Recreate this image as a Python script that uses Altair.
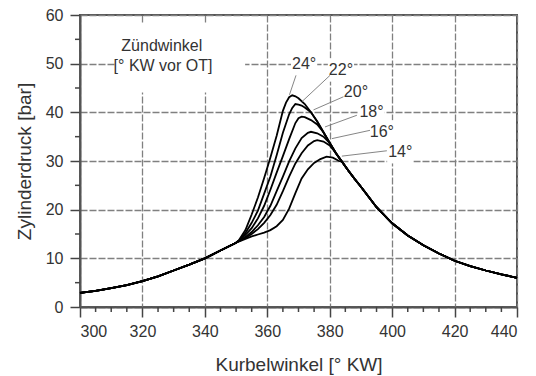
import altair as alt
import pandas as pd

# ---------------- data ----------------
angles = ["24°", "22°", "20°", "18°", "16°", "14°"]

# common compression branch (all curves)
comp_x = [300, 305, 310, 315, 320, 325, 330, 335, 340, 345, 350]
comp_y = [2.9, 3.3, 3.9, 4.5, 5.3, 6.3, 7.5, 8.7, 10.0, 11.6, 13.2]

# common expansion branch (all curves after they merge)
exp_x = [372, 374, 376, 378, 380, 382, 384, 386, 388, 390, 395, 400, 405, 410, 415, 420, 425, 430, 435, 440]
exp_y = [41.7, 40.0, 38.1, 35.9, 33.7, 31.6, 29.8, 28.0, 26.3, 24.7, 20.5, 17.2, 14.7, 12.7, 11.0, 9.5, 8.4, 7.5, 6.7, 6.0]

# combustion part of each curve
burn_x = {
    "24°": [351, 353, 355, 357, 359, 361, 363, 365, 366, 367, 368, 369, 370],
    "22°": [351, 353, 355, 357, 359, 361, 363, 365, 367, 368, 369, 370, 371, 372],
    "20°": [351, 353, 355, 357, 359, 361, 363, 365, 367, 369, 370, 371, 372, 374, 376],
    "18°": [351, 353, 355, 357, 359, 361, 363, 365, 367, 369, 371, 373, 374, 376, 378],
    "16°": [351, 353, 355, 357, 359, 361, 363, 365, 367, 369, 371, 373, 375, 376, 378, 380],
    "14°": [351, 353, 355, 357, 359, 361, 363, 365, 367, 369, 371, 373, 375, 377, 379, 381, 383],
}
burn_y = {
    "24°": [13.8, 15.8, 19.0, 22.5, 26.5, 30.7, 35.2, 40.3, 42.0, 43.1, 43.5, 43.3, 42.9],
    "22°": [13.7, 15.2, 17.3, 19.8, 23.3, 26.8, 31.2, 35.8, 39.6, 40.9, 41.7, 41.6, 41.4, 41.0],
    "20°": [13.6, 14.8, 16.2, 18.2, 20.8, 24.1, 27.6, 31.0, 34.5, 37.8, 38.8, 39.1, 39.0, 38.4, 37.5],
    "18°": [13.6, 14.4, 15.4, 16.8, 18.5, 20.8, 23.8, 26.8, 29.9, 32.6, 34.7, 35.8, 36.0, 35.7, 35.0],
    "16°": [13.5, 14.2, 15.0, 16.0, 17.3, 18.9, 21.0, 23.8, 26.8, 29.5, 31.6, 33.2, 34.1, 34.3, 34.0, 33.2],
    "14°": [13.5, 14.0, 14.5, 14.9, 15.3, 15.8, 16.6, 17.9, 20.2, 23.4, 26.4, 28.3, 29.6, 30.4, 30.9, 30.7, 30.0],
}

# curve labels and leader lines
label_x = [371.8, 383.6, 388.4, 393.4, 396.7, 402.6]
label_y = [50.0, 48.7, 44.2, 40.0, 36.0, 31.9]
lead_x1 = [369.2, 380.1, 384.4, 388.7, 392.9, 398.3]
lead_y1 = [47.6, 47.6, 43.2, 39.4, 36.3, 32.1]
lead_x2 = [367.1, 371.1, 374.8, 378.5, 380.7, 383.9]
lead_y2 = [43.6, 42.2, 40.5, 37.0, 34.6, 31.0]

# legend-like annotation
ann_text = ["Zündwinkel", "[° KW vor OT]"]
ann_x = [326.2, 326.6]
ann_y = [53.6, 49.6]

x_major = [300, 320, 340, 360, 380, 400, 420, 440]
y_major = [0, 10, 20, 30, 40, 50, 60]
x_minor = [v for v in range(300, 441, 5) if v not in x_major]
y_minor = [v for v in range(0, 61, 5) if v not in y_major]

# ---------------- tables ----------------
rows = []
for a in angles:
    xs_ = comp_x + burn_x[a]
    ys_ = comp_y + burn_y[a]
    last = burn_x[a][-1]
    for ex, ey in zip(exp_x, exp_y):
        if ex > last:
            xs_.append(ex)
            ys_.append(ey)
    for i, (xv, yv) in enumerate(zip(xs_, ys_)):
        rows.append({"zw": a, "winkel": xv, "druck": yv, "o": i})
curves = pd.DataFrame(rows)

labels = pd.DataFrame({"t": angles, "x": label_x, "y": label_y})
labels["bx1"] = labels["x"] - 4.2
labels["bx2"] = labels["x"] + 4.2
labels["by1"] = labels["y"] - 2.4
labels["by2"] = labels["y"] + 2.4
leaders = pd.DataFrame({"x1": lead_x1, "y1": lead_y1, "x2": lead_x2, "y2": lead_y2})
ann = pd.DataFrame({"t": ann_text, "x": ann_x, "y": ann_y})
ann_box = pd.DataFrame({"x1": [min(ann_x) - 15.0], "x2": [max(ann_x) + 26.3],
                        "y1": [min(ann_y) - 5.5], "y2": [max(ann_y) + 4.7]})

FONT = "Liberation Sans"
xs = alt.Scale(domain=[300, 440], nice=False, zero=False)
ys = alt.Scale(domain=[0, 60], nice=False)

xaxis = alt.Axis(values=x_major, title="Kurbelwinkel [° KW]", grid=True,
                 gridDash=[7, 2], gridColor="#808080", gridWidth=1.3,
                 tickSize=10, tickColor="#444", tickWidth=1.5,
                 domainColor="#555", domainWidth=2,
                 labelFont=FONT, labelFontSize=16, labelColor="#333", labelPadding=6,
                 titleFont=FONT, titleFontSize=19, titleFontWeight="normal",
                 titleColor="#333", titlePadding=16, format="d")
yaxis = alt.Axis(values=y_major, title="Zylinderdruck [bar]", grid=True,
                 gridDash=[7, 2], gridColor="#808080", gridWidth=1.3,
                 tickSize=10, tickColor="#444", tickWidth=1.5,
                 domainColor="#555", domainWidth=2,
                 labelFont=FONT, labelFontSize=16, labelColor="#333", labelPadding=7,
                 titleFont=FONT, titleFontSize=19, titleFontWeight="normal",
                 titleColor="#333", titlePadding=11, format="d")

boxes = alt.Chart(labels).mark_rect(fill="white").encode(
    x=alt.X("bx1:Q", scale=xs, axis=xaxis), x2="bx2:Q",
    y=alt.Y("by1:Q", scale=ys, axis=yaxis), y2="by2:Q")
annbox = alt.Chart(ann_box).mark_rect(fill="white").encode(
    x=alt.X("x1:Q", scale=xs), x2="x2:Q", y=alt.Y("y1:Q", scale=ys), y2="y2:Q")

lines = alt.Chart(curves).mark_line(color="black", strokeWidth=1.8).encode(
    x=alt.X("winkel:Q", scale=xs), y=alt.Y("druck:Q", scale=ys),
    detail="zw:N", order="o:Q")

lead = alt.Chart(leaders).mark_rule(color="#777", strokeWidth=0.9).encode(
    x=alt.X("x1:Q", scale=xs), y=alt.Y("y1:Q", scale=ys), x2="x2:Q", y2="y2:Q")

lab = alt.Chart(labels).mark_text(font=FONT, fontSize=16, color="#333",
                                  align="center", baseline="middle").encode(
    x=alt.X("x:Q", scale=xs), y=alt.Y("y:Q", scale=ys), text="t:N")

anntext = alt.Chart(ann).mark_text(font=FONT, fontSize=16, color="#333",
                                   align="center", baseline="middle").encode(
    x=alt.X("x:Q", scale=xs), y=alt.Y("y:Q", scale=ys), text="t:N")

xmin = alt.Chart(pd.DataFrame({"v": x_minor})).mark_rule(color="#444", strokeWidth=1.5).encode(
    x=alt.X("v:Q", scale=xs), y=alt.value(292), y2=alt.value(297))
ymin = alt.Chart(pd.DataFrame({"v": y_minor})).mark_rule(color="#444", strokeWidth=1.5).encode(
    y=alt.Y("v:Q", scale=ys), x=alt.value(-5), x2=alt.value(0))

chart = alt.layer(boxes, annbox, lines, lead, lab, anntext, xmin, ymin).properties(
    width=437, height=292,
    autosize=alt.AutoSizeParams(type="none"),
    padding={"left": 72, "top": 7, "right": 11, "bottom": 69},
).configure_view(stroke="#555", strokeWidth=2)

chart.save("out.html", embed_options={"renderer": "svg", "actions": False})
